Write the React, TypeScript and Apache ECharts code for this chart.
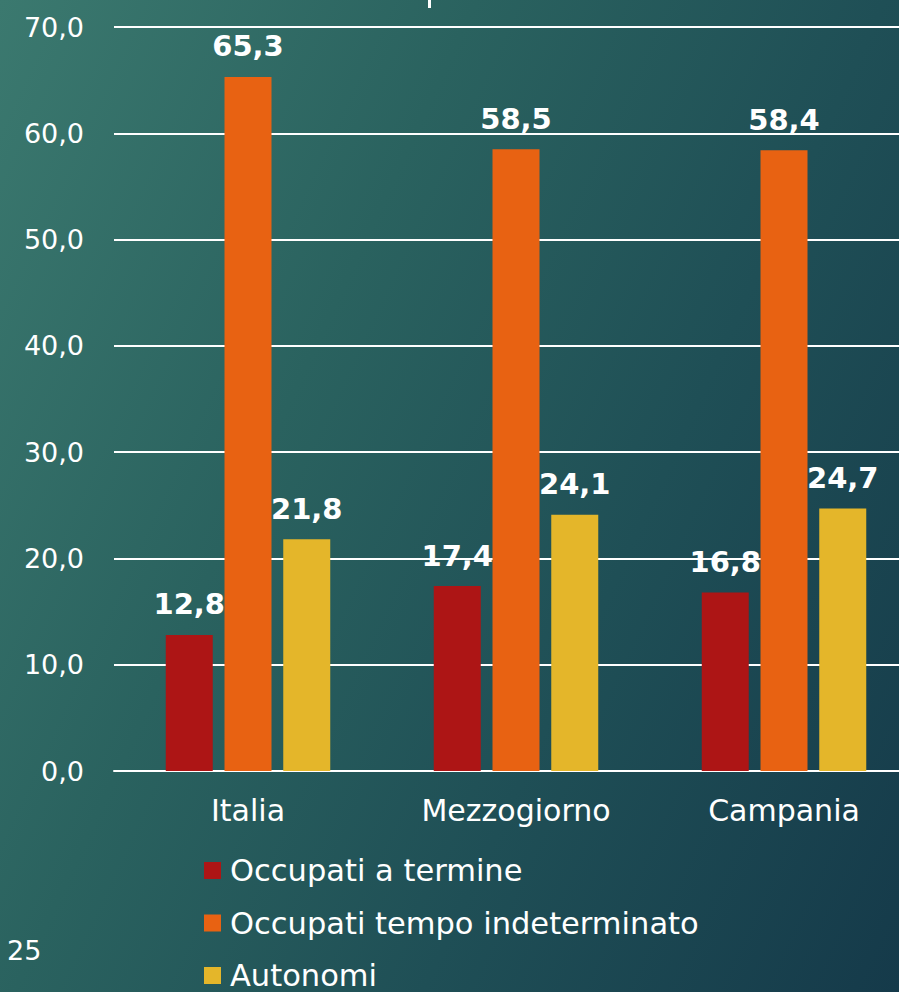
import React, { useEffect, useRef } from "react";
import * as echarts from "echarts";

const categories = ["Italia", "Mezzogiorno", "Campania"];
const seriesNames = ["Occupati a termine", "Occupati tempo indeterminato", "Autonomi"];
const termine = [12.8, 17.4, 16.8];
const indeterminato = [65.3, 58.5, 58.4];
const autonomi = [21.8, 24.1, 24.7];
const colors = ["#ad1515", "#e86212", "#e4b62a"];
const slideNumber = "25";

const FONT = "'DejaVu Sans', sans-serif";
const fmt = (v: number) => v.toFixed(1).replace(".", ",");

export default function App() {
  const ref = useRef<HTMLDivElement>(null);
  useEffect(() => {
    if (!ref.current) return;
    const chart = echarts.init(ref.current, null, { renderer: "svg" });
    const data = [termine, indeterminato, autonomi];
    chart.setOption({
      animation: false,
      backgroundColor: "transparent",
      textStyle: { fontFamily: FONT },
      grid: { left: 114, top: 27, width: 804, height: 744, containLabel: false },
      legend: {
        orient: "vertical",
        left: 199,
        top: 850,
        height: 200,
        icon: "rect",
        itemWidth: 17,
        itemHeight: 17,
        itemGap: 21.5,
        data: seriesNames,
        textStyle: { color: "#ffffff", fontSize: 30.5, fontFamily: FONT, lineHeight: 30, padding: [0, 0, 0, 4] },
      },
      xAxis: {
        type: "category",
        data: categories,
        axisLine: { show: true, lineStyle: { color: "#ffffff", width: 2 } },
        axisTick: { show: false },
        axisLabel: { color: "#ffffff", fontSize: 30, fontFamily: FONT, margin: 24 },
      },
      yAxis: {
        type: "value",
        min: 0,
        max: 70,
        interval: 10,
        axisLine: { show: false },
        axisTick: { show: false },
        splitLine: { lineStyle: { color: "#ffffff", width: 2 } },
        axisLabel: { color: "#ffffff", fontSize: 27, fontFamily: FONT, margin: 30, formatter: (v: number) => fmt(v) },
      },
      series: seriesNames.map((name, i) => ({
        name,
        type: "bar",
        data: data[i],
        barWidth: 47,
        barGap: "25%",
        itemStyle: { color: colors[i] },
        z: 2,
        label: {
          show: true,
          position: "top",
          distance: 16,
          color: "#ffffff",
          fontSize: 29,
          fontWeight: "bold",
          fontFamily: FONT,
          formatter: (p: any) => fmt(p.value),
        },
      })),
      graphic: [
        { type: "rect", left: 428, top: 0, shape: { width: 3, height: 8 }, style: { fill: "#ffffff" } },
        {
          type: "text",
          left: 7,
          top: 937,
          style: { text: slideNumber, fill: "#ffffff", fontSize: 27, fontFamily: FONT },
        },
      ],
    });
    return () => chart.dispose();
  }, []);
  return (
    <div
      style={{
        position: "fixed",
        left: 0,
        top: 0,
        width: 899,
        height: 992,
        overflow: "hidden",
        background: "linear-gradient(115deg, #3b796f 0%, #2a625f 35%, #1f4f56 65%, #153a4a 100%)",
      }}
    >
      <div ref={ref} style={{ width: 940, height: 992 }} />
    </div>
  );
}
